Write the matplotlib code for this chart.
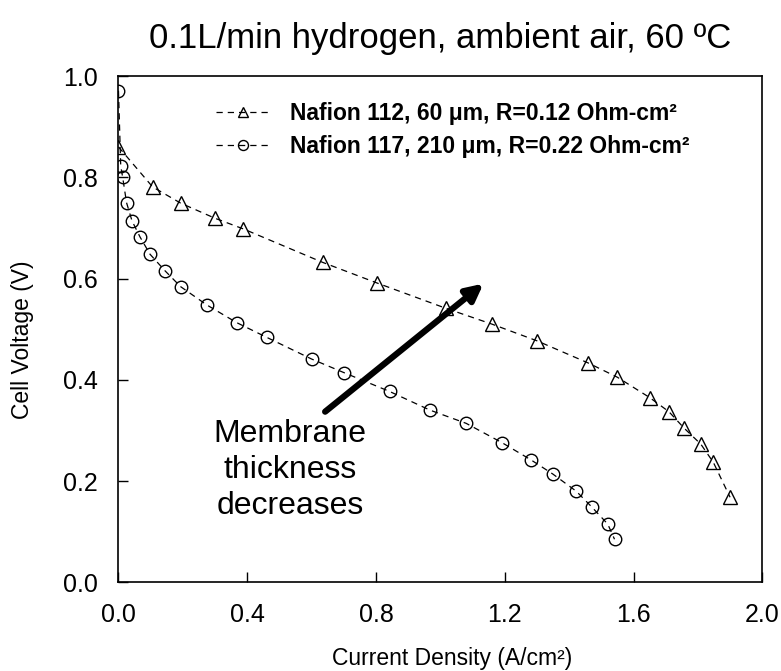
import matplotlib
matplotlib.use("Agg")
import matplotlib.pyplot as plt

plt.rcParams['font.family'] = ['Liberation Sans', 'DejaVu Sans']

# Nafion 112 (triangles)
n112_current = [0.0, 0.106, 0.193, 0.300, 0.388, 0.634, 0.804, 1.018, 1.160, 1.300,
                1.460, 1.550, 1.650, 1.710, 1.758, 1.809, 1.848, 1.900]
n112_voltage = [0.860, 0.781, 0.749, 0.719, 0.698, 0.632, 0.591, 0.541, 0.510, 0.477,
                0.433, 0.405, 0.365, 0.337, 0.304, 0.273, 0.237, 0.168]

# Nafion 117 (circles)
n117_current = [0.0, 0.007, 0.013, 0.025, 0.042, 0.067, 0.098, 0.145, 0.193, 0.274,
                0.367, 0.460, 0.600, 0.701, 0.842, 0.968, 1.080, 1.191, 1.281, 1.349,
                1.422, 1.470, 1.520, 1.541]
n117_voltage = [0.971, 0.822, 0.800, 0.750, 0.714, 0.682, 0.648, 0.615, 0.584, 0.548,
                0.513, 0.484, 0.441, 0.414, 0.377, 0.340, 0.314, 0.276, 0.242, 0.214,
                0.180, 0.149, 0.115, 0.085]

labels = ["Nafion 112, 60 \u03bcm, R=0.12 Ohm-cm\u00b2",
          "Nafion 117, 210 \u03bcm, R=0.22 Ohm-cm\u00b2"]
xticks = [0.0, 0.4, 0.8, 1.2, 1.6, 2.0]
yticks = [0.0, 0.2, 0.4, 0.6, 0.8, 1.0]

fig = plt.figure(figsize=(7.81, 6.71), dpi=100)
ax = fig.add_axes([0.1517, 0.1322, 0.8243, 0.7545])

style = dict(color='black', linestyle='--', linewidth=0.9, dashes=(5, 4),
             markerfacecolor='none', markeredgecolor='black', markeredgewidth=1.0)
ax.plot(n112_current, n112_voltage, marker='^', markersize=9.5, label=labels[0], **style)
ax.plot(n117_current, n117_voltage, marker='o', markersize=9, label=labels[1], **style)

ax.set_xlim(0, 2.0)
ax.set_ylim(0, 1.0)
ax.set_xticks(xticks)
ax.set_yticks(yticks)
ax.set_xticklabels(["%.1f" % v for v in xticks])
ax.set_yticklabels(["%.1f" % v for v in yticks])
ax.tick_params(direction='in', length=7, width=1, labelsize=18, pad=15)
for s in ax.spines.values():
    s.set_linewidth(1.2)

ax.set_xlabel("Current Density (A/cm\u00b2)", fontsize=16.5)
ax.set_ylabel("Cell Voltage (V)", fontsize=16.5)
ax.xaxis.set_label_coords(0.518, -0.128)
ax.yaxis.set_label_coords(-0.131, 0.48)
ax.set_title("0.1L/min hydrogen, ambient air, 60 \u00baC", fontsize=25, pad=20)

leg = ax.legend(loc='upper left', bbox_to_anchor=(0.12, 0.99), frameon=False,
                prop={'weight': 'bold', 'size': 16.5}, markerscale=0.8,
                handlelength=2.3, handletextpad=0.9, labelspacing=0.45)

ax.annotate("", xy=(1.134, 0.590), xytext=(0.642, 0.337),
            arrowprops=dict(arrowstyle='-|>,head_length=1.0,head_width=0.5',
                            color='black', lw=4.5, shrinkA=0, shrinkB=0))
ax.text(0.533, 0.222, "Membrane\nthickness\ndecreases", fontsize=23,
        ha='center', va='center', linespacing=1.25)

fig.savefig("out.png", dpi=100)
